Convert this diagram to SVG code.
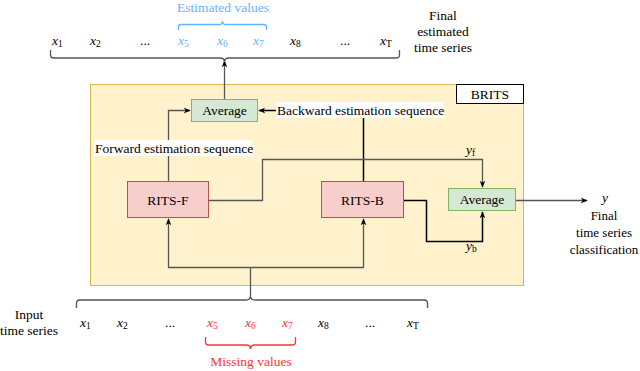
<svg xmlns="http://www.w3.org/2000/svg" width="640" height="371" viewBox="0 0 640 371" font-family="'Liberation Serif', 'DejaVu Serif', 'Times New Roman', Times, serif">
<defs>
<style>
text{font-family:'Liberation Serif','DejaVu Serif','Times New Roman',Times,serif;font-size:13.5px;fill:#000}
.c{text-anchor:middle}
.m{font-style:italic;font-size:13.5px}
.s{font-style:normal;font-size:9.5px}
.f13{font-size:13px}
.blue{fill:#66b2ff}
.red{fill:#ff3333}
.g{fill:none;stroke:#555;stroke-width:1.3}
.k{fill:none;stroke:#000;stroke-width:1.5}
.brace{fill:none;stroke:#555;stroke-width:1.3}
.box-r{fill:#f8cecc;stroke:#b85450;stroke-width:1}
.box-g{fill:#d5e8d4;stroke:#82b366;stroke-width:1}
</style>
<marker id="ah" viewBox="0 0 10 10" refX="9" refY="5" markerWidth="7" markerHeight="7" orient="auto" markerUnits="userSpaceOnUse">
<path d="M0,1 L10,5 L0,9 L3,5 Z" fill="#000"/>
</marker>
</defs>
<rect width="640" height="371" fill="#fff"/>

<g id="brits">
<rect x="90.5" y="84.5" width="433" height="201" fill="#fff2cc" stroke="#d6b656"/>
<rect x="456.5" y="84.5" width="67" height="19" fill="#fff" stroke="#000"/>
<text class="c" x="490" y="98.5">BRITS</text>
</g>

<g id="connectors">
<path class="g" d="M224.5,99 V61" marker-end="url(#ah)"/>
<path class="g" d="M168.5,181 V110.5 H190" marker-end="url(#ah)"/>
<path class="k" d="M363.5,181 V110.5 H259" marker-end="url(#ah)"/>
<path class="g" d="M209,200.5 H262.5 V159.5 H482.5 V187" marker-end="url(#ah)"/>
<path class="k" d="M404,200.5 H426.5 V241.5 H482.5 V212" marker-end="url(#ah)"/>
<path class="g" d="M516,200.5 H587" marker-end="url(#ah)"/>
<path class="g" d="M250.5,296 V267.5"/>
<path class="g" d="M250.5,267.5 H168.5 V219" marker-end="url(#ah)"/>
<path class="g" d="M250.5,267.5 H363.5 V219" marker-end="url(#ah)"/>
</g>

<g id="forward-label">
<rect x="94" y="140" width="158" height="16" fill="#fff"/>
<text x="95" y="152.5">Forward estimation sequence</text>
</g>
<g id="backward-label">
<rect x="276" y="102" width="168" height="16" fill="#fff"/>
<text x="277" y="114.5">Backward estimation sequence</text>
</g>

<g id="average-top">
<rect class="box-g" x="191.5" y="99.5" width="66" height="22"/>
<text class="c" x="224.5" y="115">Average</text>
</g>
<g id="rits-f">
<rect class="box-r" x="127.5" y="181.5" width="81" height="36"/>
<text class="c" x="168" y="204.5">RITS-F</text>
</g>
<g id="rits-b">
<rect class="box-r" x="321.5" y="181.5" width="82" height="36"/>
<text class="c" x="362.5" y="204.5">RITS-B</text>
</g>
<g id="average-right">
<rect class="box-g" x="448.5" y="188.5" width="67" height="22"/>
<text class="c" x="482" y="204">Average</text>
</g>

<g id="labels-y">
<text class="m" x="466" y="154">y<tspan class="s" font-style="italic" dy="2">f</tspan></text>
<text class="m" x="466" y="250">y<tspan class="s" font-style="italic" dy="2">b</tspan></text>
<text class="m" x="602" y="202">y</text>
<text class="c f13" x="604" y="219.5">Final</text>
<text class="c f13" x="604" y="236.5">time series</text>
<text class="c f13" x="604" y="253.5">classification</text>
</g>

<g id="output-series">
<text class="c blue" x="223" y="12">Estimated values</text>
<path class="brace" style="stroke:#66b2ff" d="M178.5,30 V27 Q178.5,24.5 181,24.5 H219 Q222.5,24.5 222.5,21 Q222.5,24.5 226,24.5 H264 Q266.5,24.5 266.5,27 V30"/>
<text class="m" x="52" y="45">x<tspan class="s" dy="2">1</tspan></text>
<text class="m" x="90" y="45">x<tspan class="s" dy="2">2</tspan></text>
<text x="140" y="45">...</text>
<text class="m blue" x="178" y="45">x<tspan class="s" dy="2">5</tspan></text>
<text class="m blue" x="217" y="45">x<tspan class="s" dy="2">6</tspan></text>
<text class="m blue" x="253" y="45">x<tspan class="s" dy="2">7</tspan></text>
<text class="m" x="290" y="45">x<tspan class="s" dy="2">8</tspan></text>
<text x="340" y="45">...</text>
<text class="m" x="380" y="45">x<tspan class="s" font-style="italic" dy="2">T</tspan></text>
<path class="brace" d="M50.5,50 V55 Q50.5,58 53.5,58 H220 Q224.5,58 224.5,62 Q224.5,58 229,58 H396 Q399.5,58 399.5,55 V50"/>
<text class="c" x="443" y="19.5">Final</text>
<text class="c" x="443" y="36">estimated</text>
<text class="c" x="443" y="52">time series</text>
</g>

<g id="input-series">
<text class="c" x="29" y="318.5">Input</text>
<text class="c" x="29" y="335">time series</text>
<path class="brace" d="M76.5,308 V303 Q76.5,300 79.5,300 H246 Q250.5,300 250.5,296 Q250.5,300 255,300 H424 Q427.5,300 427.5,303 V308"/>
<text class="m" x="80" y="327">x<tspan class="s" dy="2">1</tspan></text>
<text class="m" x="117" y="327">x<tspan class="s" dy="2">2</tspan></text>
<text x="165" y="327">...</text>
<text class="m red" x="207" y="327">x<tspan class="s" dy="2">5</tspan></text>
<text class="m red" x="245" y="327">x<tspan class="s" dy="2">6</tspan></text>
<text class="m red" x="282" y="327">x<tspan class="s" dy="2">7</tspan></text>
<text class="m" x="318" y="327">x<tspan class="s" dy="2">8</tspan></text>
<text x="365" y="327">...</text>
<text class="m" x="407" y="327">x<tspan class="s" font-style="italic" dy="2">T</tspan></text>
<path class="brace" style="stroke:#ff3333" d="M205.5,337 V342 Q205.5,345 208.5,345 H246 Q250.5,345 250.5,349 Q250.5,345 255,345 H292 Q295.5,345 295.5,342 V337"/>
<text class="c red" x="251" y="366">Missing values</text>
</g>
</svg>
